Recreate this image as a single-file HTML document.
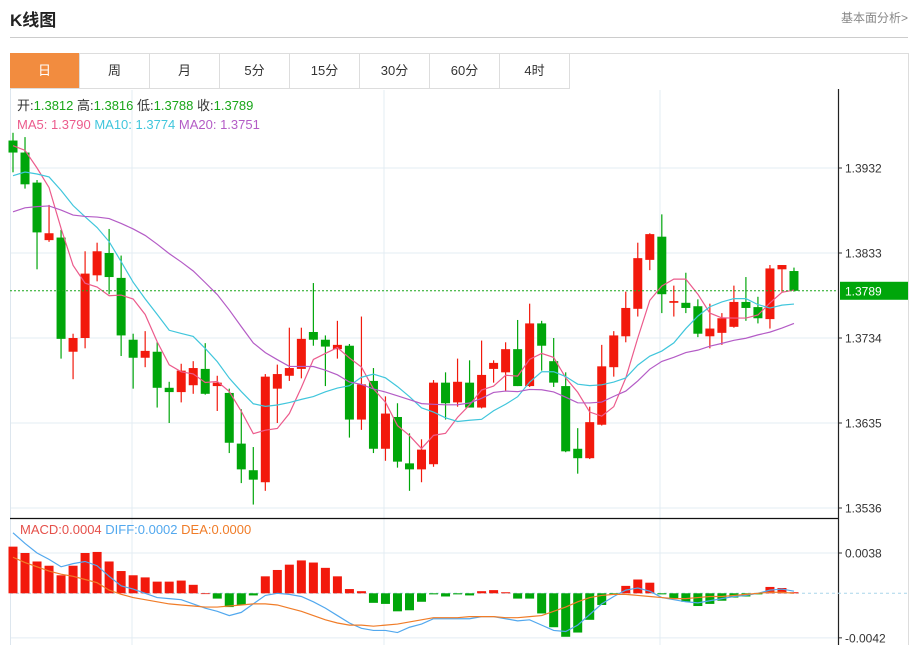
<!DOCTYPE html>
<html><head><meta charset="utf-8">
<style>
body{margin:0;background:#fff;font-family:"Liberation Sans","Noto Sans CJK SC",sans-serif;}
#wrap{position:relative;width:916px;height:645px;overflow:hidden;}
.title{position:absolute;left:10px;top:6px;font-size:17px;font-weight:bold;color:#222;}
.more{position:absolute;right:8px;top:9px;font-size:12px;color:#888;}
.hr{position:absolute;left:10px;top:37px;width:898px;height:1px;background:#ccc;}
.frame{position:absolute;left:10px;top:53px;width:897px;height:600px;border:1px solid #ddd;}
.tabs{position:absolute;left:10px;top:53px;height:35px;display:flex;}
.tab{width:69px;height:35px;border-right:1px solid #ddd;border-bottom:1px solid #ddd;text-align:center;line-height:35px;font-size:13px;color:#333;}
.tab.on{background:#f28c3f;color:#fff;}
svg{position:absolute;left:0;top:0;}
</style></head><body>
<div id="wrap">
<div class="title">K线图</div>
<div class="more">基本面分析&gt;</div>
<div class="hr"></div>
<div class="frame"></div>
<div class="tabs">
<div class="tab on">日</div>
<div class="tab">周</div>
<div class="tab">月</div>
<div class="tab">5分</div>
<div class="tab">15分</div>
<div class="tab">30分</div>
<div class="tab">60分</div>
<div class="tab">4时</div>
</div>
<svg id="chart" width="916" height="645"></svg>
</div>
<script>
const opens=[1.3964,1.3950,1.3915,1.3848,1.3851,1.3718,1.3734,1.3807,1.3833,1.3804,1.3732,1.3711,1.3718,1.3676,1.3671,1.3679,1.3698,1.3678,1.3670,1.3611,1.3580,1.3566,1.3675,1.3690,1.3698,1.3741,1.3732,1.3721,1.3725,1.3639,1.3684,1.3605,1.3642,1.3588,1.3581,1.3587,1.3682,1.3659,1.3682,1.3653,1.3698,1.3694,1.3721,1.3678,1.3751,1.3707,1.3678,1.3605,1.3594,1.3633,1.3700,1.3736,1.3768,1.3825,1.3852,1.3775,1.3775,1.3771,1.3736,1.3740,1.3747,1.3776,1.3770,1.3756,1.3814,1.3812];
const highs=[1.3973,1.3968,1.3918,1.3889,1.3860,1.3739,1.3835,1.3845,1.3861,1.3830,1.3739,1.3742,1.3729,1.3683,1.3704,1.3707,1.3728,1.3690,1.3675,1.3651,1.3607,1.3692,1.3703,1.3746,1.3746,1.3798,1.3737,1.3754,1.3727,1.3759,1.3699,1.3666,1.3658,1.3623,1.3616,1.3685,1.3694,1.3710,1.3708,1.3731,1.3708,1.3729,1.3755,1.3774,1.3754,1.3734,1.3694,1.3629,1.3654,1.3726,1.3742,1.3788,1.3845,1.3856,1.3878,1.3795,1.3810,1.3779,1.3774,1.3763,1.3795,1.3805,1.3782,1.3819,1.3819,1.3816];
const lows=[1.3927,1.3908,1.3814,1.3846,1.3710,1.3686,1.3722,1.3800,1.3785,1.3713,1.3675,1.3700,1.3653,1.3635,1.3659,1.3669,1.3668,1.3649,1.3600,1.3565,1.3540,1.3556,1.3635,1.3684,1.3687,1.3725,1.3678,1.3710,1.3618,1.3627,1.3600,1.3591,1.3583,1.3556,1.3566,1.3584,1.3639,1.3654,1.3653,1.3652,1.3682,1.3672,1.3678,1.3677,1.3696,1.3677,1.3601,1.3576,1.3593,1.3632,1.3689,1.3729,1.3759,1.3813,1.3763,1.3759,1.3763,1.3735,1.3722,1.3726,1.3746,1.3754,1.3751,1.3745,1.3788,1.3788];
const closes=[1.3950,1.3913,1.3857,1.3856,1.3733,1.3734,1.3809,1.3835,1.3805,1.3737,1.3711,1.3719,1.3676,1.3671,1.3696,1.3699,1.3669,1.3682,1.3612,1.3581,1.3569,1.3689,1.3692,1.3699,1.3733,1.3732,1.3724,1.3726,1.3639,1.3680,1.3605,1.3646,1.3590,1.3581,1.3604,1.3682,1.3658,1.3683,1.3653,1.3691,1.3705,1.3721,1.3678,1.3751,1.3725,1.3682,1.3602,1.3594,1.3636,1.3701,1.3737,1.3769,1.3827,1.3855,1.3785,1.3777,1.3769,1.3739,1.3745,1.3757,1.3776,1.3769,1.3757,1.3815,1.3819,1.3789];
const priorCloses=[1.382,1.383,1.384,1.383,1.385,1.384,1.385,1.384,1.385,1.384,1.387,1.388,1.389,1.389,1.391,1.394,1.396,1.397,1.397];
const macdBars=[0.0044,0.0038,0.0030,0.0026,0.0017,0.0026,0.0038,0.0039,0.0030,0.0021,0.0017,0.0015,0.0011,0.0011,0.0012,0.0008,0.0000,-0.0005,-0.0013,-0.0011,-0.0002,0.0016,0.0022,0.0027,0.0031,0.0029,0.0024,0.0016,0.0004,0.0002,-0.0009,-0.0010,-0.0017,-0.0016,-0.0008,-0.0001,-0.0003,-0.0001,-0.0002,0.0002,0.0003,0.0001,-0.0005,-0.0005,-0.0019,-0.0032,-0.0041,-0.0037,-0.0025,-0.0011,-0.0001,0.0007,0.0013,0.0010,-0.0001,-0.0005,-0.0008,-0.0012,-0.0010,-0.0007,-0.0004,-0.0003,-0.0001,0.0006,0.0005,0.0001];
const diffLine=[0.0057,0.0047,0.0038,0.0032,0.0025,0.0028,0.0030,0.0026,0.0016,0.0007,0.0004,0.0000,-0.0004,-0.0005,-0.0006,-0.0010,-0.0014,-0.0017,-0.0021,-0.0018,-0.0010,-0.0002,0.0000,-0.0001,-0.0003,-0.0008,-0.0014,-0.0021,-0.0028,-0.0033,-0.0035,-0.0035,-0.0037,-0.0032,-0.0029,-0.0024,-0.0024,-0.0024,-0.0024,-0.0022,-0.0022,-0.0024,-0.0026,-0.0025,-0.0030,-0.0035,-0.0036,-0.0030,-0.0020,-0.0010,-0.0003,0.0003,0.0005,0.0002,-0.0004,-0.0006,-0.0008,-0.0009,-0.0007,-0.0005,-0.0003,-0.0002,0.0000,0.0003,0.0004,0.0002];
const deaLine=[0.0034,0.0029,0.0025,0.0021,0.0018,0.0016,0.0013,0.0010,0.0003,-0.0001,-0.0004,-0.0006,-0.0008,-0.0010,-0.0011,-0.0012,-0.0013,-0.0013,-0.0012,-0.0011,-0.0010,-0.0010,-0.0011,-0.0014,-0.0017,-0.0021,-0.0025,-0.0028,-0.0030,-0.0030,-0.0031,-0.0030,-0.0029,-0.0027,-0.0025,-0.0023,-0.0023,-0.0023,-0.0022,-0.0022,-0.0022,-0.0023,-0.0023,-0.0022,-0.0021,-0.0017,-0.0013,-0.0008,-0.0004,-0.0002,-0.0001,-0.0001,-0.0002,-0.0003,-0.0004,-0.0005,-0.0005,-0.0004,-0.0003,-0.0003,-0.0002,-0.0001,0.0000,0.0001,0.0001,0.0000];
const priceTicks=[1.3932,1.3833,1.3734,1.3635,1.3536];
const macdTicks=[0.0038,-0.0042];

const svg=document.getElementById('chart');
const NS='http://www.w3.org/2000/svg';
function mk(tag,attrs,parent){const e=document.createElementNS(NS,tag);for(const k in attrs)e.setAttribute(k,attrs[k]);(parent||svg).appendChild(e);return e;}
const xAt=i=>13+i*12.015;
const yP=p=>168+(1.3932-p)/0.0099*85;
const yM=v=>593.3-v/0.0000943;
const RED='#f2190c',GREEN='#00a60a';

// grids
for(const t of priceTicks){
  const g=mk('line',{x1:10,x2:838,y1:yP(t),y2:yP(t),stroke:'#e3ecf3','stroke-width':1});
  
  
  const tk=mk('line',{x1:838,x2:842,y1:yP(t),y2:yP(t),stroke:'#333'});
  
  
  const tx=mk('text',{x:845,y:yP(t)+4.5,'font-size':12,fill:'#333','font-family':'Liberation Sans, sans-serif'});
  tx.textContent=t.toFixed(4);
  
  
}
for(const t of macdTicks){
  const g=mk('line',{x1:10,x2:838,y1:yM(t),y2:yM(t),stroke:'#e3ecf3'});
  
  
  const tk=mk('line',{x1:838,x2:842,y1:yM(t),y2:yM(t),stroke:'#333'});
  
  
  const tx=mk('text',{x:845,y:yM(t)+4.5,'font-size':12,fill:'#333','font-family':'Liberation Sans, sans-serif'});
  tx.textContent=t.toFixed(4);
  
  
}
for(const gx of [132,384,660]){
  const g=mk('line',{x1:gx,x2:gx,y1:90,y2:645,stroke:'#e3ecf3'});
  
  
}
const lb=mk('line',{x1:10.5,x2:10.5,y1:90,y2:645,stroke:'#dde6ee'});


const sep=mk('line',{x1:10,x2:838,y1:518.5,y2:518.5,stroke:'#111','stroke-width':1.2});


const ax=mk('line',{x1:838.5,x2:838.5,y1:89,y2:645,stroke:'#222','stroke-width':1.2});



// candles
for(let i=0;i<closes.length;i++){
  const up=closes[i]>=opens[i],c=up?RED:GREEN,x=xAt(i);
  const w=mk('line',{x1:x,x2:x,y1:yP(highs[i]),y2:yP(lows[i]),stroke:c,'stroke-width':1.2});
  
  
  const top=yP(Math.max(opens[i],closes[i])),bot=yP(Math.min(opens[i],closes[i]));
  const b=mk('rect',{x:x-4.5,y:top,width:9,height:Math.max(1.5,bot-top),fill:c});
  
  
}
// MAs
const all=priorCloses.concat(closes);
function ma(n){const r=[];for(let i=0;i<closes.length;i++){let s=0;const j=i+priorCloses.length;for(let k=j-n+1;k<=j;k++)s+=all[k];r.push(s/n);}return r;}
[[5,'#ec5b8c','ma5-line'],[10,'#40c6dc','ma10-line'],[20,'#b45cc6','ma20-line']].forEach(([n,col,nm])=>{
  const v=ma(n);
  const p=mk('polyline',{points:v.map((m,i)=>xAt(i)+','+yP(m)).join(' '),fill:'none',stroke:col,'stroke-width':1.2});
  
  
});
// last price line
const lastY=yP(closes[closes.length-1]);
const pl=mk('line',{x1:10,x2:838,y1:lastY,y2:lastY,stroke:'#1aa61a','stroke-dasharray':'2,2'});


const pb=mk('rect',{x:840,y:lastY-9,width:68,height:18,fill:'#00a60a'});


const pt=mk('text',{x:845,y:lastY+4.5,'font-size':12,fill:'#fff','font-family':'Liberation Sans, sans-serif'});
pt.textContent=closes[closes.length-1].toFixed(4);



// MACD
const z=mk('line',{x1:10,x2:908,y1:yM(0),y2:yM(0),stroke:'#a9d6ea','stroke-dasharray':'3,3'});


for(let i=0;i<macdBars.length;i++){
  const v=macdBars[i],y0=yM(0),y1=yM(v);
  const r=mk('rect',{x:xAt(i)-4.5,y:Math.min(y0,y1),width:9,height:Math.max(0.8,Math.abs(y1-y0)),fill:v>=0?RED:GREEN});
  
  
}
const dl=mk('polyline',{points:diffLine.map((v,i)=>xAt(i)+','+yM(v)).join(' '),fill:'none',stroke:'#52a8ee','stroke-width':1.2});


const el=mk('polyline',{points:deaLine.map((v,i)=>xAt(i)+','+yM(v)).join(' '),fill:'none',stroke:'#f07c28','stroke-width':1.2});



// legends
function txt(x,y,parts,nm){
  const t=mk('text',{x:x,y:y,'font-size':13,'font-family':'Liberation Sans, Noto Sans CJK SC, sans-serif'});
  
  
  parts.forEach(([s,c])=>{const sp=mk('tspan',{fill:c},t);sp.textContent=s;});
}
const L=closes.length-1;
txt(17,110,[['开:','#333'],[opens[L].toFixed(4)+'  ','#1aa61a'],['高:','#333'],[highs[L].toFixed(4)+'  ','#1aa61a'],['低:','#333'],[lows[L].toFixed(4)+'  ','#1aa61a'],['收:','#333'],[closes[L].toFixed(4),'#1aa61a']],'ohlc-legend');
const m5=ma(5),m10=ma(10),m20=ma(20);
txt(17,129,[['MA5: 1.3790   ','#ec5b8c'],['MA10: 1.3774   ','#40c6dc'],['MA20: 1.3751','#b45cc6']],'ma-legend');
txt(20,534,[['MACD:0.0004   ','#e5504a'],['DIFF:0.0002   ','#52a8ee'],['DEA:0.0000','#f07c28']],'macd-legend');
</script>
</body></html>
